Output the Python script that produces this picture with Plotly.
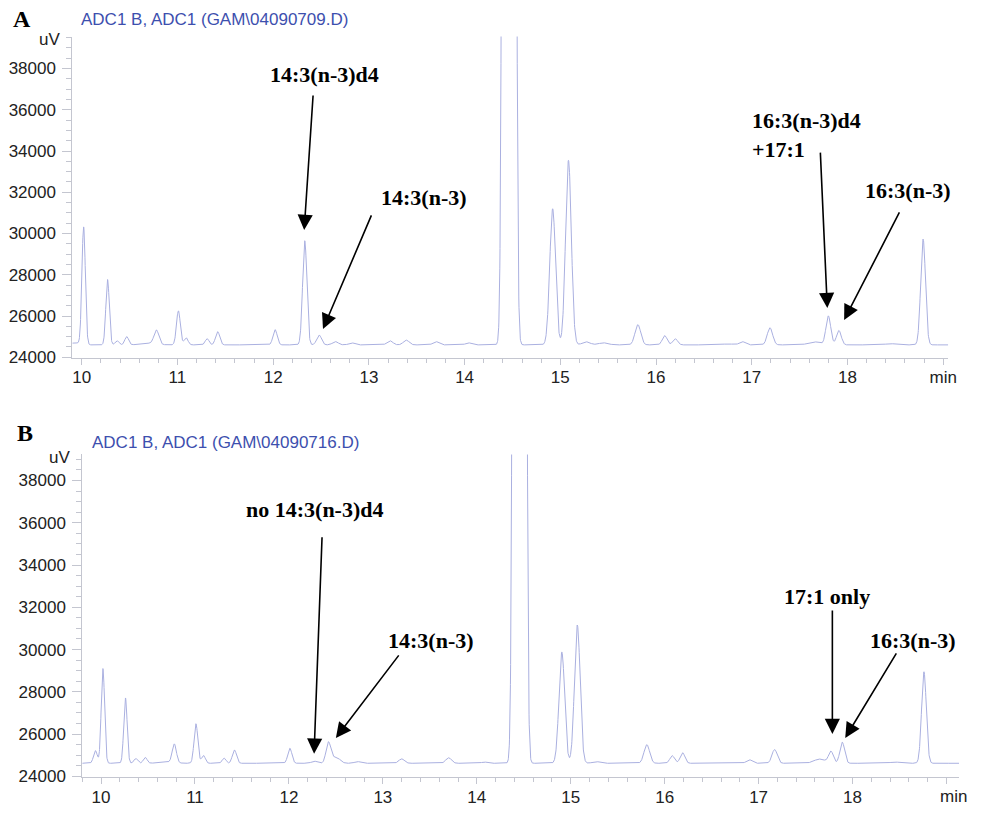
import numpy as np
import plotly.graph_objects as go

# ---------------- data ----------------
# Panel A : run GAM\04090709.D   (retention time [min], peak height above baseline [uV], peak sigma [min])
A_baseline = 24600
A_rt     = [9.93, 10.02, 10.27, 10.37, 10.47, 10.70, 10.78, 11.01, 11.09, 11.31, 11.42, 12.02, 12.33,
            12.48, 12.65, 12.82, 13.22, 13.39, 13.70, 14.04, 14.465, 14.92, 15.085, 15.27, 15.45,
            15.81, 16.09, 16.20, 16.75, 16.90, 17.19, 17.65, 17.80, 17.91, 18.45, 18.79]
A_height = [100, 5700, 3170, 200, 400, 80, 680, 1650, 350, 300, 640, 740, 5050,
            480, 160, 100, 200, 230, 160, 100, 1000000, 6600, 8950, 150, 100,
            980, 450, 300, 50, 160, 830, 150, 1400, 700, 60, 5130]
A_sigma  = [0.05, 0.018, 0.018, 0.02, 0.02, 0.08, 0.025, 0.02, 0.02, 0.02, 0.022, 0.022, 0.022,
            0.025, 0.03, 0.03, 0.03, 0.03, 0.03, 0.03, 0.029, 0.03, 0.03, 0.04, 0.05,
            0.03, 0.025, 0.025, 0.05, 0.03, 0.028, 0.06, 0.025, 0.025, 0.05, 0.025]

# Panel B : run GAM\04090716.D
B_baseline = 24620
B_rt     = [9.94, 10.02, 10.26, 10.37, 10.47, 10.70, 10.78, 11.01, 11.09, 11.31, 11.42, 12.01, 12.27,
            12.42, 12.50, 12.73, 13.20, 13.70, 14.08, 14.455, 14.905, 15.07, 15.27, 15.81,
            16.08, 16.19, 16.90, 17.17, 17.65, 17.77, 17.89, 18.45, 18.76]
B_height = [600, 4480, 3090, 220, 280, 60, 880, 1870, 370, 240, 630, 710, 100,
            980, 300, 80, 210, 260, 60, 1000000, 5270, 6540, 80, 880,
            360, 500, 170, 650, 200, 550, 1000, 60, 4330]
B_sigma  = [0.02, 0.018, 0.018, 0.02, 0.02, 0.08, 0.022, 0.02, 0.02, 0.02, 0.022, 0.022, 0.03,
            0.025, 0.04, 0.03, 0.03, 0.03, 0.03, 0.029, 0.03, 0.03, 0.04, 0.03,
            0.025, 0.025, 0.03, 0.028, 0.06, 0.025, 0.025, 0.05, 0.025]

A_xrange = [9.902, 19.053]
A_yrange = [23985, 39550]
B_xrange = [9.80, 19.135]
B_yrange = [23953, 39234]

x_tickvals = [10, 11, 12, 13, 14, 15, 16, 17, 18, 19]
A_ticktext = ["10", "11", "12", "13", "14", "15", "16", "17", "18", "min"]
B_ticktext = ["10", "11", "12", "13", "14", "15", "16", "17", "18", ""]
y_tickvals = [24000, 26000, 28000, 30000, 32000, 34000, 36000, 38000]

A_title = "ADC1 B, ADC1 (GAM\\04090709.D)"
B_title = "ADC1 B, ADC1 (GAM\\04090716.D)"

# arrow annotations: (label tip retention time, tip signal)
A_arrow_t = [12.324, 12.521, 17.789, 17.965]
A_arrow_v = [30173, 25376, 26384, 25808]
B_arrow_t = [12.268, 12.50, 17.785, 17.922]
B_arrow_v = [25075, 25822, 26009, 25822]


def chromatogram(t, base, rt, h, s):
    y = np.full_like(t, float(base))
    for r, hh, ss in zip(rt, h, s):
        y += hh * np.exp(-0.5 * ((t - r) / ss) ** 2)
    return y


W, H = 988, 818
tA = np.arange(A_xrange[0], A_xrange[1], 0.002)
tB = np.arange(B_xrange[0], B_xrange[1], 0.002)
yA = chromatogram(tA, A_baseline, A_rt, A_height, A_sigma)
yB = chromatogram(tB, B_baseline, B_rt, B_height, B_sigma)

trace_color = "#aab0e0"
axis_color = "#c4c6d0"
tick_font = dict(family="Liberation Sans, Arial, sans-serif", size=17, color="#222222")

fig = go.Figure()
fig.add_trace(go.Scatter(x=tA, y=yA, mode="lines", line=dict(color=trace_color, width=1),
                         xaxis="x", yaxis="y", showlegend=False, hoverinfo="skip"))
fig.add_trace(go.Scatter(x=tB, y=yB, mode="lines", line=dict(color=trace_color, width=1),
                         xaxis="x2", yaxis="y2", showlegend=False, hoverinfo="skip"))


def px(x):
    return x / W


def py(y):
    return 1 - y / H


def xaxis(domain, rng, ticktext, anchor, standoff):
    return dict(domain=domain, range=rng, anchor=anchor, showline=True, linecolor=axis_color,
                linewidth=1, ticks="outside", tickcolor=axis_color, ticklen=6, tickwidth=1,
                tickvals=x_tickvals, ticktext=ticktext, showgrid=False, zeroline=False,
                tickfont=tick_font, ticklabelstandoff=standoff,
                minor=dict(dtick=0.2, ticks="outside", ticklen=4, tickcolor=axis_color, showgrid=False))


def yaxis(domain, rng, anchor):
    return dict(domain=domain, range=rng, anchor=anchor, showline=True, linecolor=axis_color,
                linewidth=1, ticks="outside", tickcolor=axis_color, ticklen=9, tickwidth=1,
                tickvals=y_tickvals, showgrid=False, zeroline=False, tickfont=tick_font,
                tickformat="d", ticklabelstandoff=3,
                minor=dict(dtick=500, ticks="outside", ticklen=5, tickcolor=axis_color, showgrid=False))


fig.update_layout(
    width=W, height=H, margin=dict(l=0, r=0, t=0, b=0),
    paper_bgcolor="white", plot_bgcolor="white", showlegend=False, hovermode=False,
    xaxis=xaxis([px(73), px(957)], A_xrange, A_ticktext, "y", -2),
    yaxis=yaxis([py(362), py(37)], A_yrange, "x"),
    xaxis2=xaxis([px(83), px(968)], B_xrange, B_ticktext, "y2", -2),
    yaxis2=yaxis([py(787), py(460)], B_yrange, "x2"),
)

ann = []
title_font = dict(family="Liberation Sans, Arial, sans-serif", size=17, color="#3d4fae")
label_font = dict(family="Liberation Serif, Times New Roman, serif", size=22, color="black")
panel_font = dict(family="Liberation Serif, Times New Roman, serif", size=24, color="black")


def text(x, y, s, font, xanchor="center", align="center"):
    ann.append(dict(x=px(x), y=py(y), xref="paper", yref="paper", text=s, showarrow=False,
                    font=font, xanchor=xanchor, yanchor="middle", align=align))


# panel letters and titles
text(22, 19, "<b>A</b>", panel_font)
text(25, 438, "<b>B</b>", panel_font)
text(80, 20, A_title, title_font, xanchor="left")
text(91, 448, B_title, title_font, xanchor="left")
text(50, 40, "uV", tick_font)
text(60, 463, "uV", tick_font)
text(962, 806, "min", tick_font)

# peak labels
text(327, 75, "<b>14:3(n-3)d4</b>", label_font)
text(428, 200, "<b>14:3(n-3)</b>", label_font)
text(757, 137, "<b>16:3(n-3)d4<br>+17:1</b>", label_font, xanchor="left", align="left")
text(916, 193, "<b>16:3(n-3)</b>", label_font)
text(318, 516, "<b>no 14:3(n-3)d4</b>", label_font)
text(435, 648, "<b>14:3(n-3)</b>", label_font)
text(835, 604, "<b>17:1 only</b>", label_font)
text(921, 648, "<b>16:3(n-3)</b>", label_font)

# arrows (tail offsets in pixels)
A_off = [(9, -136), (49, -115), (-7, -157), (56, -109)]
B_off = [(8, -218), (64, -84), (0, -125), (52, -86)]
arrow_style = dict(text="", showarrow=True, arrowhead=2, arrowsize=1.9, arrowwidth=1.6,
                   arrowcolor="black", standoff=0, startstandoff=0, axref="pixel", ayref="pixel")
for t, v, (ax, ay) in zip(A_arrow_t, A_arrow_v, A_off):
    ann.append(dict(x=t, y=v, xref="x", yref="y", ax=ax, ay=ay, **arrow_style))
for t, v, (ax, ay) in zip(B_arrow_t, B_arrow_v, B_off):
    ann.append(dict(x=t, y=v, xref="x2", yref="y2", ax=ax, ay=ay, **arrow_style))

fig.update_layout(annotations=ann)
# remove the browser's default 8px page margin so the figure sits at the window's top-left corner
fig.write_html("out.html", config={"displayModeBar": False, "staticPlot": True},
               post_script="document.body.style.margin='0';document.body.style.overflow='hidden';")
